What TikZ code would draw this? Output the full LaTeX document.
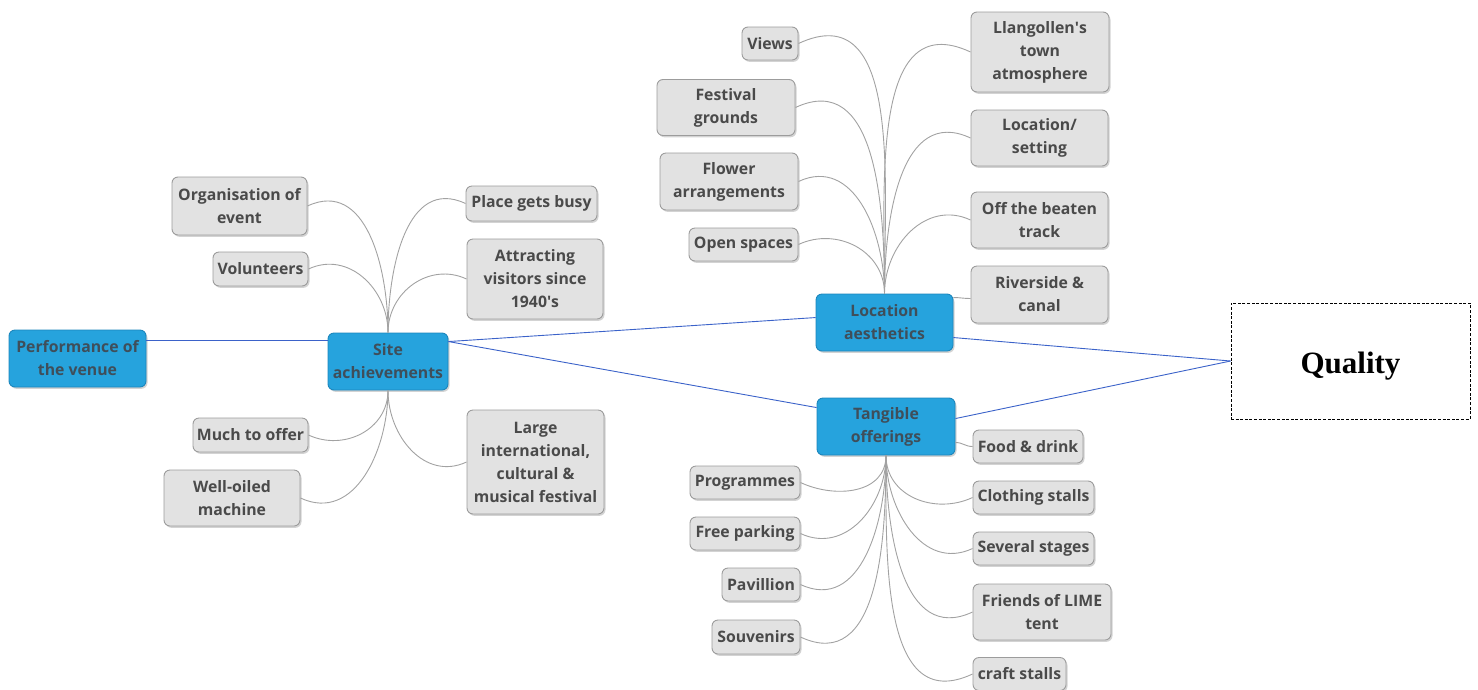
\documentclass[tikz,border=0pt]{standalone}
\usepackage{fontspec}
\setmainfont{Open Sans}
\newfontfamily\qualityfont{Liberation Serif}
\usetikzlibrary{shadows}
\definecolor{leaffill}{HTML}{E2E2E2}
\definecolor{leafdraw}{HTML}{9C9C9C}
\definecolor{leaftext}{HTML}{4A4A4A}
\definecolor{hubfill}{HTML}{26A3DD}
\definecolor{hubdraw}{HTML}{1C86BC}
\definecolor{hubtext}{HTML}{3F4E5A}
\definecolor{linkblue}{HTML}{3B62C9}
\definecolor{branch}{HTML}{A2A2A2}
\begin{document}
\begin{tikzpicture}[x=1pt,y=-1pt,
  box/.style={rounded corners=6pt, inner sep=0pt, align=center,
    font=\fontsize{15.8}{23}\selectfont\bfseries,
    drop shadow={opacity=0.35, shadow xshift=1.5pt, shadow yshift=-1.8pt}},
  leaf/.style={box, fill=leaffill, draw=leafdraw, line width=0.9pt, text=leaftext},
  hub/.style={box, fill=hubfill, draw=hubdraw, line width=0.9pt, text=hubtext},
  sz/.style 2 args={minimum width=#1pt, minimum height=#2pt},
  link/.style={draw=linkblue, line width=0.9pt},
  twig/.style={draw=branch, line width=0.9pt, looseness=1.1},
  uleft/.style={twig, out=90, in=25},
  uright/.style={twig, out=90, in=155},
  dleft/.style={twig, out=-90, in=-25},
  dright/.style={twig, out=-90, in=205}]
\useasboundingbox (0,0) rectangle (1478,689);

% central topics
\node[hub, sz={137}{57}] (perf) at (77.5,358.5) {Performance of\\the venue};
\node[hub, sz={120}{57}] (site) at (388,361.5) {Site\\achievements};
\node[hub, sz={137}{57}] (loc) at (884.5,322.5) {Location\\aesthetics};
\node[hub, sz={138}{57}] (tang) at (886,426.5) {Tangible\\offerings};
\node[draw, dash pattern=on 3pt off 1.6pt, line width=0.8pt, minimum width=239pt, minimum height=116pt,
  text depth=2pt, text height=27pt,
  font=\qualityfont\fontsize{31}{34}\selectfont\bfseries] (qual) at (1350.5,361) {Quality};

% site achievements
\node[leaf, sz={135}{58}] (org) at (239.5,206) {Organisation of\\event};
\node[leaf, sz={95}{34}] (vol) at (260.5,269) {Volunteers};
\node[leaf, sz={131}{35}] (busy) at (531.5,203.5) {Place gets busy};
\node[leaf, sz={136}{80}] (attr) at (535,279) {Attracting\\visitors since\\1940\textquotesingle s};
\node[leaf, sz={115}{34}] (much) at (250.5,435) {Much to offer};
\node[leaf, sz={136}{56}] (well) at (232,498) {Well-oiled\\machine};
\node[leaf, sz={137}{104}] (large) at (535.5,462) {Large\\international,\\cultural \&\\musical festival};

% location aesthetics
\node[leaf, sz={56}{33}] (views) at (770,43.5) {Views};
\node[leaf, sz={138}{56}] (fest) at (726,107.5) {Festival\\grounds};
\node[leaf, sz={138}{57}] (flower) at (729,181.5) {Flower\\arrangements};
\node[leaf, sz={109}{33}] (open) at (743.5,244.5) {Open spaces};
\node[leaf, sz={138}{80}] (llan) at (1040,52) {Llangollen\textquotesingle s\\town\\atmosphere};
\node[leaf, sz={137}{56}] (locset) at (1039.5,138) {Location/\\setting};
\node[leaf, sz={137}{56}] (off) at (1039.5,220) {Off the beaten\\track};
\node[leaf, sz={137}{57}] (river) at (1039.5,294.5) {Riverside \&\\canal};

% tangible offerings
\node[leaf, sz={110}{33}] (food) at (1028,446.5) {Food \& drink};
\node[leaf, sz={121}{33}] (cloth) at (1033.5,497.5) {Clothing stalls};
\node[leaf, sz={121}{33}] (stages) at (1033.5,548.5) {Several stages};
\node[leaf, sz={138}{56}] (friends) at (1042,612) {Friends of LIME\\tent};
\node[leaf, sz={93}{33}] (craft) at (1019.5,674) {craft stalls};
\node[leaf, sz={110}{33}] (prog) at (745,482.5) {Programmes};
\node[leaf, sz={110}{33}] (park) at (745,533.5) {Free parking};
\node[leaf, sz={78}{33}] (pav) at (761,584.5) {Pavillion};
\node[leaf, sz={88}{34}] (souv) at (756,637) {Souvenirs};

% links between the central topics
\draw[link] (perf.east |- 0,340) -- (site.west |- 0,340);
\draw[link] ([yshift=-9pt]site.north east) -- ([yshift=-24pt]loc.north west);
\draw[link] ([yshift=-9pt]site.north east) -- ([yshift=-10pt]tang.north west);
\draw[link] ([yshift=-44pt]loc.north east) -- (qual.west);
\draw[link] ([yshift=-21pt]tang.north east) -- (qual.west);

% branches of site achievements
\draw[uleft] (site.north) to (org.east);
\draw[uleft] (site.north) to (vol.east);
\draw[uright] (site.north) to (busy.west);
\draw[uright] (site.north) to (attr.west);
\draw[dleft] (site.south) to (much.east);
\draw[dleft] (site.south) to (well.east);
\draw[dright] (site.south) to (large.west);

% branches of location aesthetics
\draw[uleft] (loc.north) to (views.east);
\draw[uleft] (loc.north) to (fest.east);
\draw[uleft] (loc.north) to (flower.east);
\draw[uleft] (loc.north) to (open.east);
\draw[uright] (loc.north) to (llan.west);
\draw[uright] (loc.north) to (locset.west);
\draw[uright] (loc.north) to (off.west);
\draw[twig] ([yshift=-4pt]loc.north east) to[out=0, in=180] ([yshift=-4pt]river.west);

% branches of tangible offerings
\draw[twig] ([yshift=-16pt]tang.east) to[out=0, in=180] (food.west);
\draw[dright] (tang.south) to (cloth.west);
\draw[dright] (tang.south) to (stages.west);
\draw[dright] (tang.south) to (friends.west);
\draw[dright] (tang.south) to (craft.west);
\draw[dleft] (tang.south) to (prog.east);
\draw[dleft] (tang.south) to (park.east);
\draw[dleft] (tang.south) to (pav.east);
\draw[dleft] (tang.south) to (souv.east);
\end{tikzpicture}
\end{document}
